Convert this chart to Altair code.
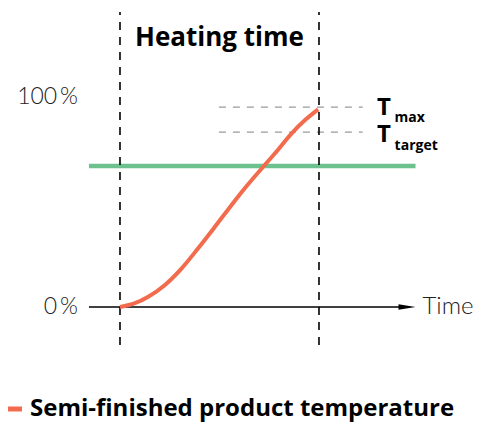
import altair as alt
import pandas as pd

# --- data -----------------------------------------------------------------
curve_time = [0, 0.75, 1.42, 2.26, 3.10, 3.93, 4.77, 5.61, 6.20, 7.20, 7.79, 8.63, 9.30, 9.96]
curve_temp = [0, 1.8, 4.9, 10.5, 18.4, 28.0, 38.2, 48.6, 55.7, 66.8, 73.2, 82.7, 89.0, 94.1]
series_name = "Semi-finished product temperature"

heating_start = 0
heating_end = 10
axis_start = -1.56
axis_end = 14.85
t_max = 95.2
t_target = 83.3
green_level = 67.1
guide_from = 4.97
guide_to = 12.2
vline_bottom = -18.1
vline_top = 140.5

tick_values = [0, 100]
tick_labels = ["0\u2009%", "100\u2009%"]

LIGHT = "Lato"
BOLD = "Open Sans"
H = 414
X_DOM = [-5.628, 17.84]
Y_DOM = [142.38 - H / 2.1, 142.38]

xs = alt.Scale(domain=X_DOM, nice=False, zero=False)
ys = alt.Scale(domain=Y_DOM, nice=False, zero=False)
X = lambda f: alt.X(f, type="quantitative", scale=xs, axis=None)
Y = lambda f: alt.Y(f, type="quantitative", scale=ys, axis=None)

curve_df = pd.DataFrame({"t": curve_time, "v": curve_temp, "s": [series_name] * len(curve_time)})

green = alt.Chart(pd.DataFrame({"x1": [axis_start], "x2": [axis_end], "y": [green_level]})).mark_rule(
    color="#6cc18f", strokeWidth=4.5
).encode(x=X("x1"), x2="x2", y=Y("y"))

guides = alt.Chart(pd.DataFrame({"x1": [guide_from] * 2, "x2": [guide_to] * 2, "y": [t_max, t_target]})).mark_rule(
    color="#9a9a9a", strokeWidth=1.3, strokeDash=[7, 7]
).encode(x=X("x1"), x2="x2", y=Y("y"))

vlines = alt.Chart(pd.DataFrame({"x": [heating_start, heating_end], "y1": [vline_bottom] * 2, "y2": [vline_top] * 2})).mark_rule(
    color="black", strokeWidth=1.6, strokeDash=[8, 7]
).encode(x=X("x"), y=Y("y1"), y2="y2")

axis_line = alt.Chart(pd.DataFrame({"x1": [axis_start], "x2": [axis_end - 0.6], "y": [0]})).mark_rule(
    color="black", strokeWidth=1.6
).encode(x=X("x1"), x2="x2", y=Y("y"))

arrow = alt.Chart(pd.DataFrame({"x": [axis_end], "y": [0]})).mark_point(
    shape="M0,0L-2,-0.33L-2,0.33Z", size=289, filled=True, color="black", opacity=1
).encode(x=X("x"), y=Y("y"))

curve = alt.Chart(curve_df).mark_line(strokeWidth=4, interpolate="monotone").encode(
    x=X("t"), y=Y("v"),
    color=alt.Color("s:N", scale=alt.Scale(domain=[series_name], range=["#f26b4d"]),
                    legend=alt.Legend(title=None, orient="none", legendX=0, legendY=389,
                                      symbolType="stroke", symbolSize=196, symbolStrokeWidth=5,
                                      symbolOffset=-5,
                                      labelFont=BOLD, labelFontSize=24, labelFontWeight="bold",
                                      labelColor="black", labelOffset=3, labelLimit=0, padding=0))
)

ylabels = alt.Chart(pd.DataFrame({"x": [-2.11] * 2, "y": tick_values, "txt": tick_labels})).mark_text(
    align="right", baseline="middle", font=LIGHT, fontSize=23, fontWeight=300, color="#222"
).encode(x=X("x"), y=Y("y"), text="txt:N")

time_label = alt.Chart(pd.DataFrame({"x": [15.2], "y": [0], "txt": ["Time"]})).mark_text(
    align="left", baseline="middle", font=LIGHT, fontSize=24, fontWeight=300, color="#222"
).encode(x=X("x"), y=Y("y"), text="txt:N")

title = alt.Chart(pd.DataFrame({"x": [5], "y": [128.1], "txt": ["Heating time"]})).mark_text(
    align="center", baseline="middle", font=BOLD, fontSize=26, fontWeight="bold", color="black"
).encode(x=X("x"), y=Y("y"), text="txt:N")

big_t = alt.Chart(pd.DataFrame({"x": [12.91] * 2, "y": [91.4, 78.7], "txt": ["T", "T"]})).mark_text(
    align="left", baseline="alphabetic", font=BOLD, fontSize=24, fontWeight="bold", color="black"
).encode(x=X("x"), y=Y("y"), text="txt:N")

subs = alt.Chart(pd.DataFrame({"x": [13.8] * 2, "y": [88.2, 74.8], "txt": ["max", "target"]})).mark_text(
    align="left", baseline="alphabetic", font=BOLD, fontSize=14, fontWeight="bold", color="black"
).encode(x=X("x"), y=Y("y"), text="txt:N")

chart = alt.layer(green, guides, vlines, axis_line, arrow, curve, ylabels, time_label, title, big_t, subs).properties(
    width=467, height=H, padding=0, autosize=alt.AutoSizeParams(type="none")
).configure_view(stroke=None)

chart.save("out.html", embed_options={"renderer": "svg", "actions": False})
